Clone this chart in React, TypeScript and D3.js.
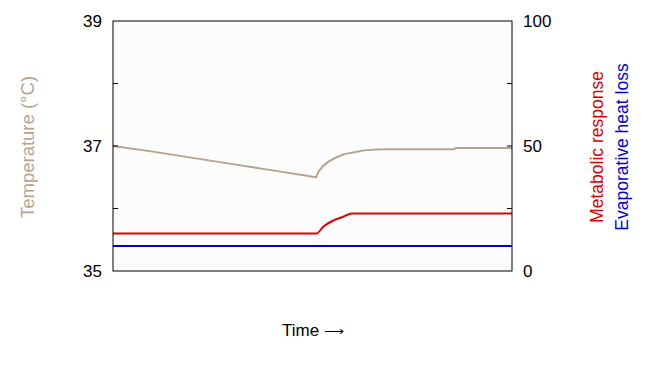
import React from "react";
import * as d3 from "d3";

const tempTime = [0, 10, 20, 30, 40, 50.9, 51.5, 52.5, 54.0, 56.0, 58.0, 60.5, 63.0, 66.0, 69.4, 85.5, 86, 100];
const tempValues = [37.0, 36.91, 36.81, 36.71, 36.61, 36.5, 36.59, 36.67, 36.75, 36.82, 36.87, 36.9, 36.93, 36.945, 36.95, 36.95, 36.97, 36.97];

const metabTime = [0, 51.0, 52.7, 55.2, 57.7, 59.8, 100];
const metabValues = [15, 15, 17.7, 20.2, 21.7, 23, 23];

const evapTime = [0, 100];
const evapValues = [10, 10];

const leftTicks = [35, 36, 37, 38, 39];
const leftLabels = ["35", "", "37", "", "39"];
const rightTicks = [0, 25, 50, 75, 100];
const rightLabels = ["0", "", "50", "", "100"];

export default function App() {
  const W = 659, H = 372;
  const L = 113, R = 512, T = 21, B = 271;
  const x = d3.scaleLinear().domain([0, 100]).range([L, R]);
  const yL = d3.scaleLinear().domain([35, 39]).range([B, T]);
  const yR = d3.scaleLinear().domain([0, 100]).range([B, T]);

  const lineL = d3.line<[number, number]>().x(d => x(d[0])).y(d => yL(d[1]));
  const lineR = d3.line<[number, number]>().x(d => x(d[0])).y(d => yR(d[1])).curve(d3.curveMonotoneX);
  const zip = (a: number[], b: number[]) => a.map((v, i) => [v, b[i]] as [number, number]);

  const font = "Liberation Sans, Arial, Helvetica, sans-serif";
  return (
    <svg width={W} height={H} style={{ position: "absolute", left: 0, top: 0 }} fontFamily={font}>
      <rect x={L} y={T} width={R - L} height={B - T} fill="#fcfcfc" />
      <path d={lineR(zip(evapTime, evapValues)) || ""} fill="none" stroke="#0000dd" strokeWidth={2} />
      <path d={lineR(zip(metabTime, metabValues)) || ""} fill="none" stroke="#dd0000" strokeWidth={2} />
      <path d={lineL(zip(tempTime, tempValues)) || ""} fill="none" stroke="#b5a48e" strokeWidth={2} strokeLinejoin="round" />
      <rect x={L} y={T} width={R - L} height={B - T} fill="none" stroke="#000" strokeWidth={1} />
      {leftTicks.map((t, i) => (
        <g key={"l" + i}>
          {t !== 35 && t !== 39 && <line x1={L} x2={L + 5} y1={yL(t)} y2={yL(t)} stroke="#000" />}
          {leftLabels[i] && (
            <text x={102} y={yL(t)} dy="0.35em" textAnchor="end" fontSize={17} fill="#000">{leftLabels[i]}</text>
          )}
        </g>
      ))}
      {rightTicks.map((t, i) => (
        <g key={"r" + i}>
          {t !== 0 && t !== 100 && <line x1={R - 5} x2={R} y1={yR(t)} y2={yR(t)} stroke="#000" />}
          {rightLabels[i] && (
            <text x={523} y={yR(t)} dy="0.35em" textAnchor="start" fontSize={17} fill="#000">{rightLabels[i]}</text>
          )}
        </g>
      ))}
      <text transform="translate(34,147) rotate(-90)" textAnchor="middle" fontSize={18.5} fill="#b5a48e">Temperature (°C)</text>
      <text transform="translate(603,147) rotate(-90)" textAnchor="middle" fontSize={17.5} fill="#dd0000">Metabolic response</text>
      <text transform="translate(628,147) rotate(-90)" textAnchor="middle" fontSize={17.5} fill="#0000dd">Evaporative heat loss</text>
      <text x={313} y={336} textAnchor="middle" fontSize={17} fill="#000">Time <tspan fontSize={14}>⟶</tspan></text>
    </svg>
  );
}
